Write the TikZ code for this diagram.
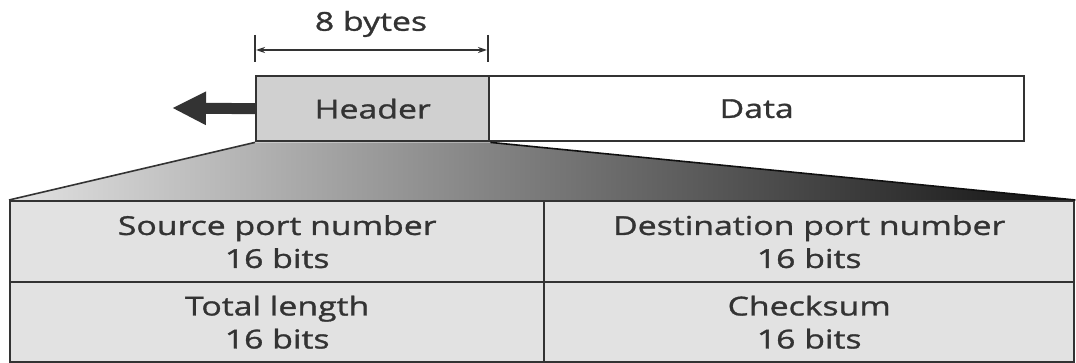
\documentclass[tikz,border=0pt]{standalone}
\usepackage{fontspec}
\setmainfont[FakeStretch=1.3,FakeBold=1.2]{Open Sans}
\usetikzlibrary{arrows.meta,backgrounds}
\definecolor{ink}{HTML}{333333}
\definecolor{cellgray}{HTML}{E2E2E2}
\definecolor{hdrgray}{HTML}{D0D0D0}
\definecolor{shl}{HTML}{E2E2E2}
\definecolor{shm}{HTML}{A0A0A0}
\definecolor{shr}{HTML}{101010}
\begin{document}
\begin{tikzpicture}[x=1pt,y=-1pt,
  txt/.style={text=ink, font=\fontsize{26}{33}\selectfont},
  box/.style={txt, draw=ink, line width=2.4pt, inner sep=0pt, anchor=north west, align=center},
  cell/.style={box, fill=cellgray},
  dimline/.style={draw=ink, line width=1.4pt},
]
\useasboundingbox (0,0) rectangle (1076,363);
% packet
\node[box, fill=hdrgray, minimum width=233pt, minimum height=65pt] (hdr) at (255,75) {Header};
\node[box, fill=white, minimum width=535pt, minimum height=65pt] (data) at (488,75) {Data};
% table
\node[cell, minimum width=534pt, minimum height=81pt] (c1) at (9,200) {Source port number\\16 bits};
\node[cell, minimum width=530pt, minimum height=81pt] (c2) at (543,200) {Destination port number\\16 bits};
\node[cell, minimum width=534pt, minimum height=80pt] (c3) at (9,281) {Total length\\16 bits};
\node[cell, minimum width=530pt, minimum height=80pt] (c4) at (543,281) {Checksum\\16 bits};
% expansion trapezoid
\begin{pgfonlayer}{background}
\fill[white] (0,0) rectangle (1076,363);
\shade[left color=shl, middle color=shm, right color=shr]
  (hdr.south west) -- (hdr.south east) -- (c2.north east) -- (c1.north west) -- cycle;
\end{pgfonlayer}
\draw[draw=ink, line width=1.6pt] (hdr.south west) -- (c1.north west);
\draw[draw=shr, line width=1.6pt] (hdr.south east) -- (c2.north east);
% dimension
\coordinate (t1a) at (255,35); \coordinate (t1b) at (255,62);
\coordinate (t2a) at (488,35); \coordinate (t2b) at (488,62);
\coordinate (d1) at (256,50); \coordinate (d2) at (487,50);
\draw[dimline] (t1a) -- (t1b);
\draw[dimline] (t2a) -- (t2b);
\draw[dimline, {Stealth[length=9pt,width=6pt]}-{Stealth[length=9pt,width=6pt]}] (d1) -- (d2);
\node[txt] (bytes) at (371,24) {8 bytes};
% direction arrow
\coordinate (tip) at (172,108);
\draw[ink, line width=11pt, -{Triangle[length=34pt,width=31pt]}] (hdr.west) -- (tip);
\end{tikzpicture}
\end{document}
